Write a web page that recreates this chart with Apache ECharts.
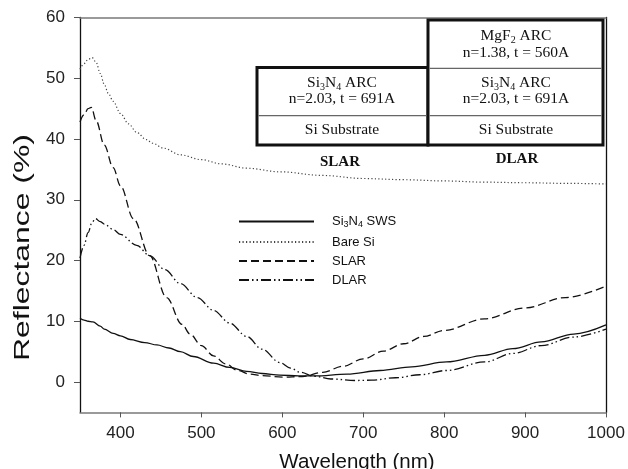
<!DOCTYPE html>
<html>
<head>
<meta charset="utf-8">
<script src="https://cdn.jsdelivr.net/npm/echarts@6/dist/echarts.min.js"></script>
<style>html,body{margin:0;padding:0;background:#fff}#c{width:628px;height:469px}</style>
</head>
<body>
<div id="c"></div>
<script>
// ---- data ----
const swsX  = [350,355,360,366,375,380,391,400,412,430,445,460,474,490,515,535,556,575,597,620,640,680,721,760,803,850,885,920,960,1000];
const swsY  = [10.5,10.2,10.0,9.9,9.2,8.7,8.0,7.6,7.0,6.5,6.1,5.6,5.0,4.2,3.1,2.4,1.75,1.4,1.15,1.0,1.0,1.3,1.9,2.5,3.3,4.4,5.5,6.6,7.9,9.4];

const bareX = [350,355,360,365,370,375,380,385,391,400,410,420,432,440,453,474,500,525,556,597,650,700,750,800,850,900,950,1000];
const bareY = [51.5,52.4,53.1,53.4,52.6,50.8,49.0,47.5,46.2,44.2,42.5,41.1,39.9,39.3,38.5,37.4,36.6,35.9,35.2,34.6,34.0,33.5,33.3,33.1,32.9,32.8,32.7,32.6];

const slarX = [350,355,360,364,370,380,391,400,416,436,457,476,486,500,515,530,545,560,575,600,625,650,675,700,725,750,775,800,850,900,950,1000];
const slarY = [42.8,44.0,45.0,45.2,43.0,39.0,35.3,32.3,26.9,20.8,13.9,9.5,7.9,6.0,4.3,3.0,1.9,1.3,1.05,0.8,0.9,1.6,2.6,3.8,5.1,6.3,7.5,8.5,10.4,12.2,13.9,15.8];

const dlarX = [350,355,360,365,369,375,380,391,400,420,436,455,474,495,515,535,556,575,597,610,622,640,660,690,710,740,770,803,850,885,920,960,1000];
const dlarY = [20.4,22.5,24.6,26.3,26.9,26.4,26.0,25.1,24.3,22.5,20.8,18.5,16.2,13.9,11.8,9.7,7.5,5.4,3.2,2.3,1.6,0.95,0.5,0.25,0.3,0.7,1.2,1.9,3.3,4.7,6.0,7.4,8.7];

const xTicks = [400,500,600,700,800,900,1000];
const yTicks = [0,10,20,30,40,50,60];

const seriesNames = ['{t|Si}{s|3}{t|N}{s|4}{t| SWS}', 'Bare Si', 'SLAR', 'DLAR'];

const pairs = (xs, ys) => xs.map((x, i) => [x, ys[i]]);

const chart = echarts.init(document.getElementById('c'), null, {renderer: 'canvas'});

const sansFont = '"Liberation Sans", Arial, sans-serif';
const serifFont = '"Liberation Serif", "Times New Roman", serif';

function mkSeries(name, data, color, width, dash) {
  return {
    name: name, type: 'line', data: data, showSymbol: false, symbol: 'none',
    smooth: 0.35, smoothMonotone: 'x', silent: true,
    lineStyle: {color: color, width: width, type: dash},
    itemStyle: {color: color},
    z: 3
  };
}

const subRich = {
  t: {fontFamily: serifFont, fontSize: 15.5, color: '#111', lineHeight: 18},
  s: {fontFamily: serifFont, fontSize: 10, color: '#111', lineHeight: 18, verticalAlign: 'bottom', padding: [6, 0, 0, 0]}
};

function boxText(x, y, text) {
  return {
    type: 'text', x: x, y: y, z: 20,
    style: {text: text, fill: '#111', font: '15.5px ' + serifFont, align: 'center', verticalAlign: 'middle', rich: subRich}
  };
}

const option = {
  backgroundColor: '#fff',
  animation: false,
  grid: {left: 80, right: 22, top: 17.5, bottom: 56.6, containLabel: false, outerBoundsMode: 'none'},
  xAxis: [{
    type: 'value', min: 350, max: 1000, position: 'bottom',
    name: 'Wavelength (nm)', nameLocation: 'middle', nameGap: 39,
    nameTextStyle: {fontFamily: sansFont, fontSize: 20.5, color: '#111', padding: [0, 0, 0, 28]},
    axisLine: {show: true, onZero: false, lineStyle: {color: '#7a7a7a', width: 1.5}},
    axisTick: {show: true, length: 5, lineStyle: {color: '#555'}, customValues: xTicks},
    axisLabel: {fontFamily: sansFont, fontSize: 17, color: '#222', margin: 12, customValues: xTicks,
                formatter: function (v) { return String(v); }},
    splitLine: {show: false}
  }, {
    type: 'value', min: 350, max: 1000, position: 'top',
    axisLine: {show: true, onZero: false, lineStyle: {color: '#7a7a7a', width: 1.5}},
    axisTick: {show: false}, axisLabel: {show: false}, splitLine: {show: false}
  }],
  yAxis: [{
    type: 'value', min: -5, max: 60, position: 'left',
    axisLine: {show: true, onZero: false, lineStyle: {color: '#111', width: 1.3}},
    axisTick: {show: true, length: 6, lineStyle: {color: '#555'}, customValues: yTicks},
    axisLabel: {fontFamily: sansFont, fontSize: 17, color: '#222', margin: 15, customValues: yTicks,
                formatter: function (v) { return String(v); }},
    splitLine: {show: false}
  }, {
    type: 'value', min: -5, max: 60, position: 'right',
    axisLine: {show: true, onZero: false, lineStyle: {color: '#111', width: 1.3}},
    axisTick: {show: false}, axisLabel: {show: false}, splitLine: {show: false}
  }],
  legend: {
    orient: 'vertical', left: 238, top: 215, padding: 0,
    itemWidth: 75, itemHeight: 12, itemGap: 6,
    itemStyle: {opacity: 0},
    data: seriesNames,
    textStyle: {
      fontFamily: sansFont, fontSize: 13, color: '#111', padding: [0, 0, 0, 13],
      rich: {
        t: {fontFamily: sansFont, fontSize: 13, color: '#111', lineHeight: 16},
        s: {fontFamily: sansFont, fontSize: 9, color: '#111', lineHeight: 16, verticalAlign: 'bottom', padding: [5, 0, 0, 0]}
      }
    },
    selectedMode: false
  },
  series: [
    mkSeries(seriesNames[0], pairs(swsX, swsY), '#111', 1.3, 'solid'),
    mkSeries(seriesNames[1], pairs(bareX, bareY), '#444', 1.2, [1.2, 2.3]),
    mkSeries(seriesNames[2], pairs(slarX, slarY), '#111', 1.3, [8, 4]),
    mkSeries(seriesNames[3], pairs(dlarX, dlarY), '#111', 1.3, [10, 3, 1.5, 3, 1.5, 3])
  ],
  graphic: [
    // y axis title (stretched like the reference)
    {type: 'text', x: 22.5, y: 247.5, rotation: Math.PI / 2, scaleX: 1.45,
     style: {text: 'Reflectance (%)', font: '22px ' + sansFont, fill: '#111', align: 'center', verticalAlign: 'middle'}},
    // SLAR stack
    {type: 'rect', z: 15, shape: {x: 257, y: 67.5, width: 171, height: 77.5}, style: {fill: '#fff', stroke: '#111', lineWidth: 3}},
    {type: 'line', z: 16, shape: {x1: 258.5, y1: 115.7, x2: 426.5, y2: 115.7}, style: {stroke: '#666', lineWidth: 1.3}},
    // DLAR stack
    {type: 'rect', z: 15, shape: {x: 428, y: 20, width: 175, height: 125}, style: {fill: '#fff', stroke: '#111', lineWidth: 3}},
    {type: 'line', z: 16, shape: {x1: 429.5, y1: 68.3, x2: 601.5, y2: 68.3}, style: {stroke: '#666', lineWidth: 1.3}},
    {type: 'line', z: 16, shape: {x1: 429.5, y1: 115.7, x2: 601.5, y2: 115.7}, style: {stroke: '#666', lineWidth: 1.3}},
    boxText(516, 36, '{t|MgF}{s|2}{t| ARC}'),
    boxText(516, 52.5, 'n=1.38, t = 560A'),
    boxText(516, 83, '{t|Si}{s|3}{t|N}{s|4}{t| ARC}'),
    boxText(516, 99, 'n=2.03, t = 691A'),
    boxText(516, 130, 'Si Substrate'),
    boxText(342, 83, '{t|Si}{s|3}{t|N}{s|4}{t| ARC}'),
    boxText(342, 99, 'n=2.03, t = 691A'),
    boxText(342, 130, 'Si Substrate'),
    {type: 'text', x: 340, y: 162, z: 20, style: {text: 'SLAR', font: 'bold 15px ' + serifFont, fill: '#111', align: 'center', verticalAlign: 'middle'}},
    {type: 'text', x: 517, y: 159, z: 20, style: {text: 'DLAR', font: 'bold 15px ' + serifFont, fill: '#111', align: 'center', verticalAlign: 'middle'}}
  ]
};

chart.setOption(option);
</script>
</body>
</html>
